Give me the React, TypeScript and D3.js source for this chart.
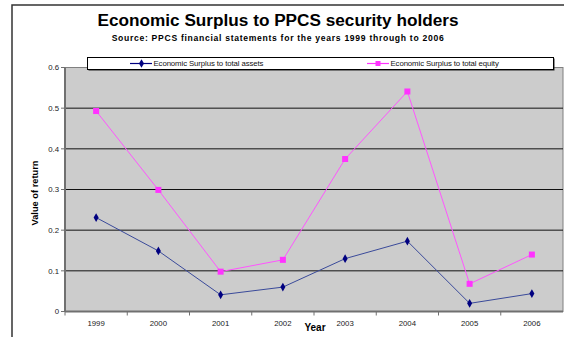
import React from "react";
import * as d3 from "d3";

const years = ["1999", "2000", "2001", "2002", "2003", "2004", "2005", "2006"];
const assets = [0.231, 0.149, 0.041, 0.06, 0.13, 0.173, 0.02, 0.044];
const equity = [0.493, 0.299, 0.098, 0.127, 0.375, 0.541, 0.068, 0.14];
const yTicks = [0, 0.1, 0.2, 0.3, 0.4, 0.5, 0.6];
const seriesNames = ["Economic Surplus to total assets", "Economic Surplus to total equity"];

const W = 564, H = 337;
const L = 65, R = 563, T = 67.5, B = 311.5;
const font = "'Liberation Sans', Arial, sans-serif";

export default function App() {
  const x = d3.scaleBand<string>().domain(years).range([L, R]);
  const y = d3.scaleLinear().domain([0, 0.6]).range([B, T]);
  const cx = (d: string) => (x(d) as number) + x.bandwidth() / 2;
  const line = d3.line<number>().x((_, i) => cx(years[i])).y((v) => y(v));
  const diamond = d3.symbol().type(d3.symbolDiamond).size(22);

  return (
    <svg width={W} height={H} style={{ position: "absolute", left: 0, top: 0 }} fontFamily={font}>
      <rect x={0} y={0} width={W} height={H} fill="#fff" />
      <rect x={12} y={5} width={W + 10} height={H + 10} fill="#fff" stroke="#333" strokeWidth={1.5} />
      <text x={278} y={26} textAnchor="middle" fontSize={17.2} fontWeight="bold">
        Economic Surplus to PPCS security holders
      </text>
      <text x={278} y={40.5} textAnchor="middle" fontSize={8.6} fontWeight="bold" letterSpacing={0.7}>
        Source: PPCS financial statements for the years 1999 through to 2006
      </text>
      <rect x={L} y={T} width={R - L} height={B - T} fill="#cccccc" stroke="#808080" strokeWidth={1} />
      {yTicks.filter((t) => t > 0 && t < 0.6).map((t) => (
        <line key={t} x1={L} x2={R} y1={y(t)} y2={y(t)} stroke="#111" strokeWidth={1} />
      ))}
      <line x1={L} x2={L} y1={T} y2={B} stroke="#707070" strokeWidth={2} />
      <line x1={L} x2={R} y1={B} y2={B} stroke="#707070" strokeWidth={2} />
      {yTicks.map((t) => (
        <g key={t}>
          <line x1={L - 4} x2={L} y1={y(t)} y2={y(t)} stroke="#707070" />
          <text x={59} y={y(t) + 2.7} textAnchor="end" fontSize={7.8} fill="#222">{t}</text>
        </g>
      ))}
      {years.map((yr) => (
        <g key={yr}>
          <line x1={x(yr) as number} x2={x(yr) as number} y1={B} y2={B + 4} stroke="#707070" />
          <text x={cx(yr)} y={326} textAnchor="middle" fontSize={7.8} fill="#222">{yr}</text>
        </g>
      ))}
      <text x={315} y={331} textAnchor="middle" fontSize={10} fontWeight="bold">Year</text>
      <text transform={`translate(38,${193}) rotate(-90)`} textAnchor="middle" fontSize={9.3} fontWeight="bold">
        Value of return
      </text>
      <path d={line(equity) || ""} fill="none" stroke="#ff55ff" strokeWidth={1} />
      <path d={line(assets) || ""} fill="none" stroke="#3a4a9a" strokeWidth={1} />
      {equity.map((v, i) => (
        <rect key={i} x={cx(years[i]) - 3} y={y(v) - 3} width={6} height={6} fill="#ff33ff" />
      ))}
      {assets.map((v, i) => (
        <path key={i} d={diamond() || ""} transform={`translate(${cx(years[i])},${y(v)})`} fill="#000080" />
      ))}
      <rect x={88.5} y={58.5} width={466} height={12} fill="#222" />
      <rect x={87.5} y={57.5} width={466} height={12} fill="#fff" stroke="#000" strokeWidth={1} />
      <line x1={130} x2={152} y1={63.5} y2={63.5} stroke="#000080" strokeWidth={1.2} />
      <path d={diamond() || ""} transform="translate(141.5,63.5)" fill="#000080" />
      <text x={153.5} y={66} fontSize={7.8} letterSpacing={-0.1} fill="#111">{seriesNames[0]}</text>
      <line x1={367} x2={389} y1={63.5} y2={63.5} stroke="#ff33ff" strokeWidth={1.2} />
      <rect x={375.5} y={61} width={5} height={5} fill="#ff33ff" />
      <text x={390.5} y={66} fontSize={7.8} letterSpacing={-0.1} fill="#111">{seriesNames[1]}</text>
    </svg>
  );
}
